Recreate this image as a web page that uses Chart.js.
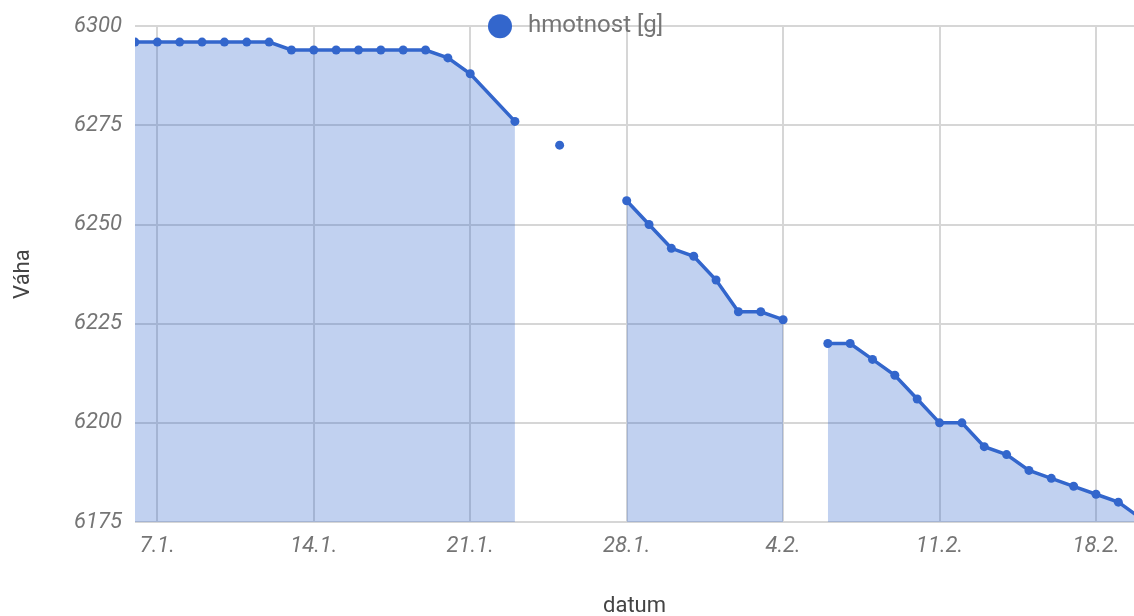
<!DOCTYPE html>
<html>
<head>
<meta charset="utf-8">
<title>hmotnost</title>
<script src="https://cdn.jsdelivr.net/npm/chart.js@4.4.1/dist/chart.umd.min.js"></script>
<style>
  html, body { margin: 0; padding: 0; background: #fff; overflow: hidden; }
  canvas { display: block; }
</style>
</head>
<body>
<canvas id="weightChart" width="1134" height="616"></canvas>
<script>
const dates = [
  '6.1.', '7.1.', '8.1.', '9.1.', '10.1.', '11.1.', '12.1.', '13.1.', '14.1.', '15.1.',
  '16.1.', '17.1.', '18.1.', '19.1.', '20.1.', '21.1.', '23.1.', '24.1.', '25.1.', '26.1.',
  '28.1.', '29.1.', '30.1.', '31.1.', '1.2.', '2.2.', '3.2.', '4.2.', '5.2.', '6.2.',
  '7.2.', '8.2.', '9.2.', '10.2.', '11.2.', '12.2.', '13.2.', '14.2.', '15.2.', '16.2.',
  '17.2.', '18.2.', '19.2.', '20.2.'
];
const weights = [
  6296, 6296, 6296, 6296, 6296, 6296, 6296, 6294, 6294, 6294,
  6294, 6294, 6294, 6294, 6292, 6288, 6276, null, 6270, null,
  6256, 6250, 6244, 6242, 6236, 6228, 6228, 6226, null, 6220,
  6220, 6216, 6212, 6206, 6200, 6200, 6194, 6192, 6188, 6186,
  6184, 6182, 6180, 6176
];
const xTickLabels = ['7.1.', '14.1.', '21.1.', '28.1.', '4.2.', '11.2.', '18.2.'];
const yTicks = [6175, 6200, 6225, 6250, 6275, 6300];
const seriesName = 'hmotnost [g]';

const BLUE = '#3366cc';
const TICK_GREY = '#757575';

// days since the first date
function dayIndex(str) {
  const parts = str.split('.');
  const t = Date.UTC(2021, parseInt(parts[1]) - 1, parseInt(parts[0]));
  const p0 = dates[0].split('.');
  const t0 = Date.UTC(2021, parseInt(p0[1]) - 1, parseInt(p0[0]));
  return Math.round((t - t0) / 86400000);
}

const points = dates.map((d, i) => ({ x: dayIndex(d), y: weights[i] }));

// legend sits on the top grid line, like the original
const topLegend = {
  id: 'topLegend',
  afterDraw(chart) {
    const ctx = chart.ctx;
    const y = chart.chartArea.top;
    ctx.save();
    ctx.fillStyle = BLUE;
    ctx.beginPath();
    ctx.arc(500, y, 12, 0, Math.PI * 2);
    ctx.fill();
    ctx.fillStyle = TICK_GREY;
    ctx.font = '24px Roboto';
    ctx.textAlign = 'left';
    ctx.textBaseline = 'middle';
    ctx.fillText(seriesName, 528, y);
    ctx.restore();
  }
};

Chart.defaults.font.family = 'Roboto';

new Chart(document.getElementById('weightChart'), {
  type: 'line',
  data: {
    datasets: [{
      label: seriesName,
      data: points,
      borderColor: BLUE,
      borderWidth: 3.5,
      backgroundColor: 'rgba(51,102,204,0.3)',
      fill: 'start',
      tension: 0,
      pointRadius: 4.5,
      pointHoverRadius: 5,
      pointBackgroundColor: BLUE,
      pointBorderWidth: 0,
      spanGaps: false,
      clip: 0
    }]
  },
  options: {
    responsive: false,
    animation: false,
    layout: { autoPadding: false, padding: { top: 26, right: 0, left: 0, bottom: 0 } },
    plugins: {
      legend: { display: false },
      tooltip: { enabled: false }
    },
    scales: {
      x: {
        type: 'linear',
        min: 0,
        max: 44.7,
        afterBuildTicks: (scale) => {
          scale.ticks = xTickLabels.map(l => ({ value: dayIndex(l) }));
        },
        afterFit: (scale) => {
          scale.height = 94;
          scale.paddingLeft = 0;
          scale.paddingRight = 0;
        },
        ticks: {
          autoSkip: false,
          maxRotation: 0,
          padding: 11,
          color: TICK_GREY,
          font: { size: 22, style: 'italic' },
          callback: (v) => xTickLabels.find(l => dayIndex(l) === v) || ''
        },
        grid: { color: '#d6d6d6', lineWidth: 2, drawTicks: false },
        border: { display: false },
        title: {
          display: true,
          text: 'datum',
          color: '#444',
          font: { size: 22 },
          padding: { top: 0, bottom: -4 }
        }
      },
      y: {
        min: 6175,
        max: 6300,
        afterBuildTicks: (scale) => {
          scale.ticks = yTicks.map(v => ({ value: v }));
        },
        afterFit: (scale) => { scale.width = 135; },
        ticks: {
          padding: 13,
          color: TICK_GREY,
          font: { size: 22, style: 'italic' },
          callback: (v) => String(v)
        },
        grid: { color: '#d6d6d6', lineWidth: 2, drawTicks: false },
        border: { display: false },
        title: {
          display: true,
          text: 'Váha',
          color: '#444',
          font: { size: 22 },
          padding: { top: 10, bottom: 0 }
        }
      }
    }
  },
  plugins: [topLegend]
});
</script>
</body>
</html>
